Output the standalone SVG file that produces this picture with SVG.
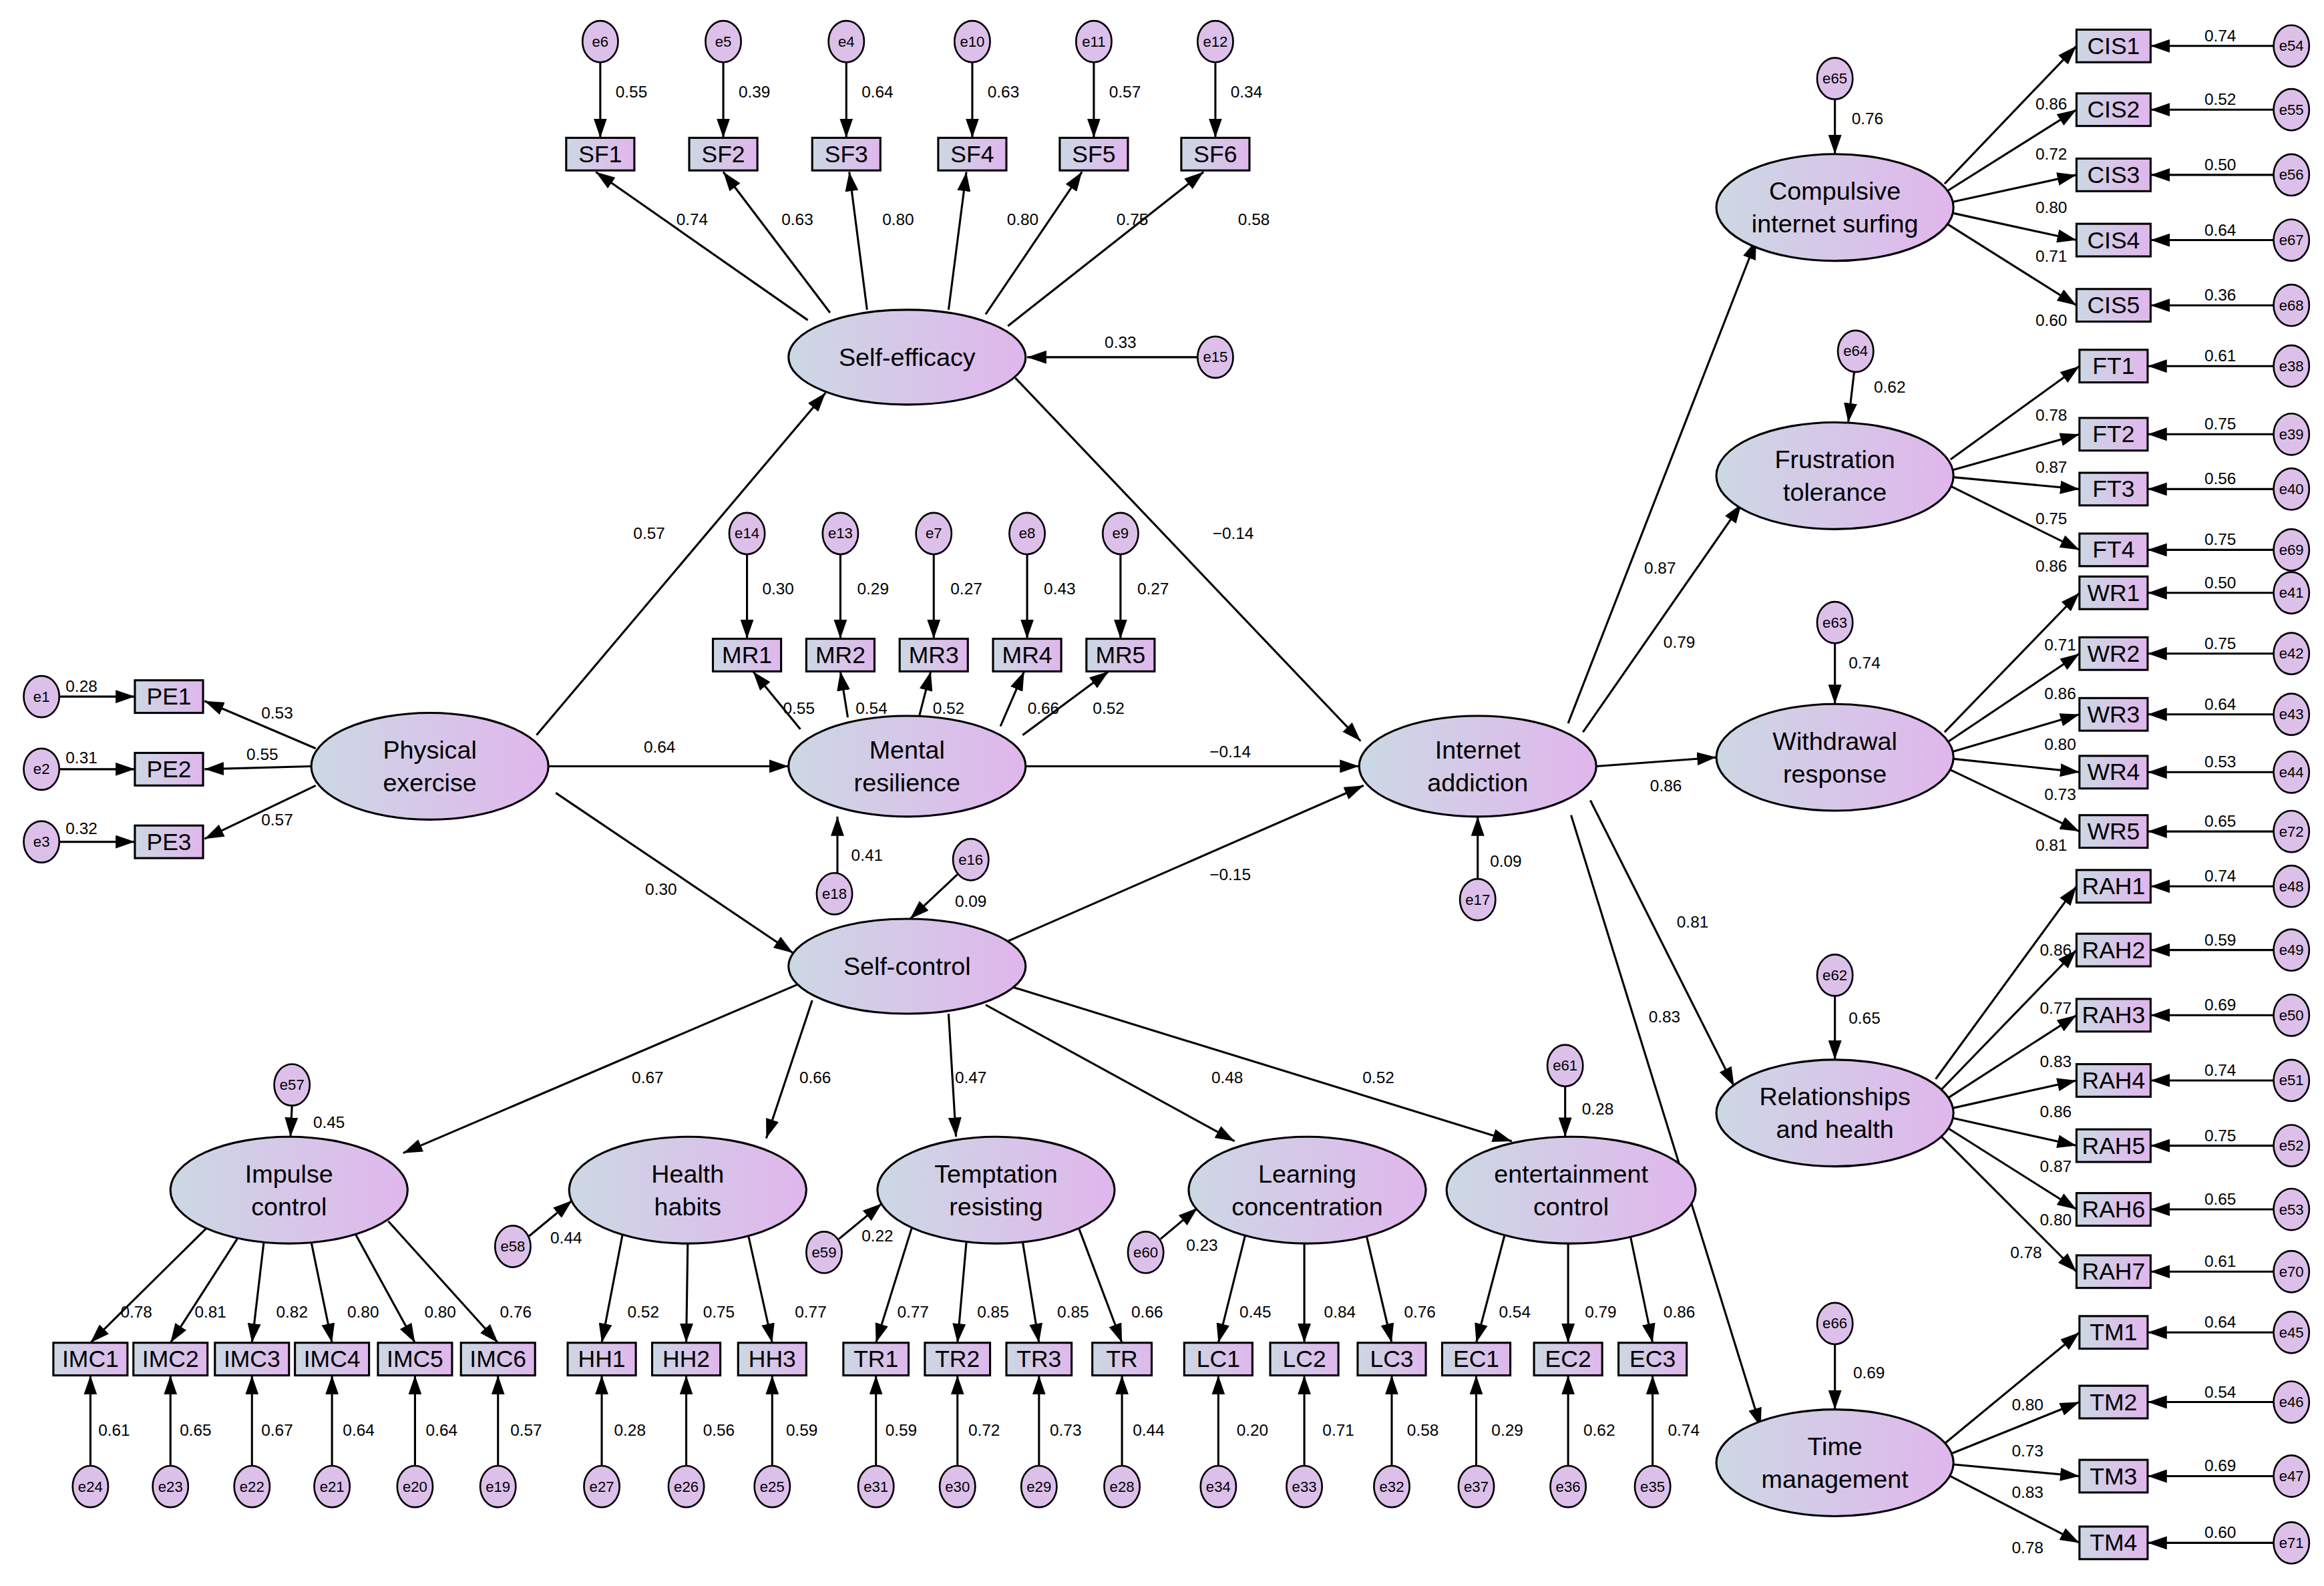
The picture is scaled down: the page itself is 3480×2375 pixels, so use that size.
<svg xmlns="http://www.w3.org/2000/svg" width="3480" height="2375" viewBox="0 0 3480 2375">
<defs>
<linearGradient id="g" x1="0" x2="1" y1="0" y2="0"><stop offset="0" stop-color="#ccd8e4"/><stop offset="1" stop-color="#e0b6ec"/></linearGradient>
<marker id="ar" markerUnits="userSpaceOnUse" markerWidth="13" markerHeight="9" refX="13" refY="4.5" orient="auto"><path d="M0,0 L13,4.5 L0,9 z" fill="#000"/></marker>
<style>
.l ellipse,.i rect{fill:url(#g);stroke:#000;stroke-width:1.4}
.e ellipse{fill:#dcc0ea;stroke:#000;stroke-width:1.2}
text{font-family:"Liberation Sans",Arial,sans-serif;text-anchor:middle;dominant-baseline:central;fill:#000}
.l text{font-size:17px}.i text{font-size:16px}.e text{font-size:10px}
.n text{font-size:11px}
#c line{stroke:#000;stroke-width:1.4;marker-end:url(#ar)}
</style>
</defs>
<rect width="3480" height="2375" fill="#fff"/>
<g transform="scale(2.2194)">
<g id="c">
<!-- SF -->
<line x1="405" y1="42" x2="405" y2="93"/><line x1="488" y1="42" x2="488" y2="93"/><line x1="571" y1="42" x2="571" y2="93"/><line x1="656" y1="42" x2="656" y2="93"/><line x1="738" y1="42" x2="738" y2="93"/><line x1="820" y1="42" x2="820" y2="93"/>
<line x1="545" y1="216" x2="402" y2="116"/><line x1="560" y1="211" x2="488" y2="116"/><line x1="585" y1="209" x2="573" y2="116"/><line x1="640" y1="209" x2="652" y2="116"/><line x1="665" y1="212" x2="730" y2="116"/><line x1="680" y1="220" x2="812" y2="116"/>
<line x1="808" y1="241" x2="693" y2="241"/>
<!-- MR -->
<line x1="504" y1="374" x2="504" y2="431"/><line x1="567" y1="374" x2="567" y2="431"/><line x1="630" y1="374" x2="630" y2="431"/><line x1="693" y1="374" x2="693" y2="431"/><line x1="756" y1="374" x2="756" y2="431"/>
<line x1="540" y1="492" x2="508" y2="453"/><line x1="572" y1="484" x2="567" y2="453"/><line x1="620" y1="484" x2="628" y2="453"/><line x1="675" y1="490" x2="691" y2="453"/><line x1="690" y1="496" x2="748" y2="453"/>
<line x1="565" y1="589" x2="565" y2="551"/>
<!-- PE -->
<line x1="40" y1="470" x2="91" y2="470"/><line x1="40" y1="519" x2="91" y2="519"/><line x1="40" y1="568" x2="91" y2="568"/>
<line x1="213" y1="505" x2="138" y2="473"/><line x1="210" y1="517" x2="138" y2="519"/><line x1="213" y1="530" x2="138" y2="566"/>
<!-- structural -->
<line x1="362" y1="496" x2="557" y2="265"/><line x1="370" y1="517" x2="532" y2="517"/><line x1="375" y1="535" x2="535" y2="643"/>
<line x1="685" y1="255" x2="918" y2="500"/><line x1="692" y1="517" x2="917" y2="517"/><line x1="680" y1="635" x2="920" y2="530"/>
<line x1="646" y1="590" x2="614" y2="620"/><line x1="997" y1="593" x2="997" y2="551"/>
<line x1="548" y1="660" x2="272" y2="778"/><line x1="548" y1="675" x2="517" y2="768"/><line x1="640" y1="684" x2="645" y2="767"/><line x1="665" y1="678" x2="833" y2="770"/><line x1="680" y1="665" x2="1020" y2="770"/>
<line x1="197" y1="746" x2="196" y2="767"/><line x1="357" y1="834" x2="386" y2="810"/><line x1="566" y1="836" x2="595" y2="812"/><line x1="783" y1="836" x2="808" y2="815"/><line x1="1056" y1="733" x2="1056" y2="767"/>
<!-- bottom loadings -->
<line x1="140" y1="828" x2="61" y2="906"/><line x1="160" y1="836" x2="115" y2="906"/><line x1="178" y1="838" x2="170" y2="906"/><line x1="210" y1="838" x2="224" y2="906"/><line x1="240" y1="833" x2="280" y2="906"/><line x1="262" y1="824" x2="336" y2="906"/>
<line x1="420" y1="833" x2="406" y2="906"/><line x1="464" y1="839" x2="463" y2="906"/><line x1="505" y1="834" x2="521" y2="906"/>
<line x1="615" y1="829" x2="591" y2="906"/><line x1="652" y1="838" x2="646" y2="906"/><line x1="690" y1="838" x2="701" y2="906"/><line x1="728" y1="829" x2="757" y2="906"/>
<line x1="840" y1="834" x2="822" y2="906"/><line x1="880" y1="839" x2="880" y2="906"/><line x1="922" y1="834" x2="939" y2="906"/>
<line x1="1015" y1="834" x2="996" y2="906"/><line x1="1058" y1="839" x2="1058" y2="906"/><line x1="1100" y1="834" x2="1115" y2="906"/>
<line x1="61" y1="989" x2="61" y2="928"/><line x1="115" y1="989" x2="115" y2="928"/><line x1="170" y1="989" x2="170" y2="928"/><line x1="224" y1="989" x2="224" y2="928"/><line x1="280" y1="989" x2="280" y2="928"/><line x1="336" y1="989" x2="336" y2="928"/>
<line x1="406" y1="989" x2="406" y2="928"/><line x1="463" y1="989" x2="463" y2="928"/><line x1="521" y1="989" x2="521" y2="928"/>
<line x1="591" y1="989" x2="591" y2="928"/><line x1="646" y1="989" x2="646" y2="928"/><line x1="701" y1="989" x2="701" y2="928"/><line x1="757" y1="989" x2="757" y2="928"/>
<line x1="822" y1="989" x2="822" y2="928"/><line x1="880" y1="989" x2="880" y2="928"/><line x1="939" y1="989" x2="939" y2="928"/>
<line x1="996" y1="989" x2="996" y2="928"/><line x1="1058" y1="989" x2="1058" y2="928"/><line x1="1115" y1="989" x2="1115" y2="928"/>
<!-- right structural -->
<line x1="1058" y1="488" x2="1185" y2="162"/><line x1="1068" y1="494" x2="1175" y2="340"/><line x1="1077" y1="517" x2="1158" y2="511"/><line x1="1073" y1="540" x2="1170" y2="733"/><line x1="1060" y1="550" x2="1188" y2="963"/>
<line x1="1238" y1="67" x2="1238" y2="104"/><line x1="1251" y1="251" x2="1247" y2="285"/><line x1="1238" y1="434" x2="1238" y2="475"/><line x1="1238" y1="672" x2="1238" y2="715"/><line x1="1238" y1="907" x2="1238" y2="951"/>
<!-- right indicators -->
<line x1="1312" y1="124" x2="1401" y2="31"/><line x1="1312" y1="130" x2="1401" y2="74"/><line x1="1314" y1="137" x2="1401" y2="118"/><line x1="1314" y1="143" x2="1401" y2="162"/><line x1="1312" y1="150" x2="1401" y2="206"/>
<line x1="1316" y1="310" x2="1403" y2="247"/><line x1="1318" y1="317" x2="1403" y2="293"/><line x1="1318" y1="322" x2="1403" y2="330"/><line x1="1316" y1="328" x2="1403" y2="371"/>
<line x1="1312" y1="494" x2="1403" y2="400"/><line x1="1315" y1="500" x2="1403" y2="441"/><line x1="1318" y1="507" x2="1403" y2="482"/><line x1="1318" y1="512" x2="1403" y2="521"/><line x1="1315" y1="519" x2="1403" y2="561"/>
<line x1="1306" y1="728" x2="1401" y2="598"/><line x1="1310" y1="735" x2="1401" y2="641"/><line x1="1314" y1="741" x2="1401" y2="685"/><line x1="1316" y1="748" x2="1401" y2="729"/><line x1="1316" y1="754" x2="1401" y2="773"/><line x1="1314" y1="761" x2="1401" y2="816"/><line x1="1310" y1="767" x2="1401" y2="858"/>
<line x1="1312" y1="974" x2="1403" y2="899"/><line x1="1316" y1="981" x2="1403" y2="946"/><line x1="1317" y1="988" x2="1403" y2="996"/><line x1="1314" y1="995" x2="1403" y2="1041"/>
<line x1="1534" y1="31" x2="1451" y2="31"/><line x1="1534" y1="74" x2="1451" y2="74"/><line x1="1534" y1="118" x2="1451" y2="118"/><line x1="1534" y1="162" x2="1451" y2="162"/><line x1="1534" y1="206" x2="1451" y2="206"/>
<line x1="1534" y1="247" x2="1449" y2="247"/><line x1="1534" y1="293" x2="1449" y2="293"/><line x1="1534" y1="330" x2="1449" y2="330"/><line x1="1534" y1="371" x2="1449" y2="371"/>
<line x1="1534" y1="400" x2="1449" y2="400"/><line x1="1534" y1="441" x2="1449" y2="441"/><line x1="1534" y1="482" x2="1449" y2="482"/><line x1="1534" y1="521" x2="1449" y2="521"/><line x1="1534" y1="561" x2="1449" y2="561"/>
<line x1="1534" y1="598" x2="1451" y2="598"/><line x1="1534" y1="641" x2="1451" y2="641"/><line x1="1534" y1="685" x2="1451" y2="685"/><line x1="1534" y1="729" x2="1451" y2="729"/><line x1="1534" y1="773" x2="1451" y2="773"/><line x1="1534" y1="816" x2="1451" y2="816"/><line x1="1534" y1="858" x2="1451" y2="858"/>
<line x1="1534" y1="899" x2="1449" y2="899"/><line x1="1534" y1="946" x2="1449" y2="946"/><line x1="1534" y1="996" x2="1449" y2="996"/><line x1="1534" y1="1041" x2="1449" y2="1041"/>
</g>
<!-- latent nodes -->
<g id="PE" class="l"><ellipse cx="290" cy="517" rx="80" ry="36"/><text x="290" y="506">Physical</text><text x="290" y="528">exercise</text></g>
<g id="SE" class="l"><ellipse cx="612" cy="241" rx="80" ry="32"/><text x="612" y="241">Self-efficacy</text></g>
<g id="MR" class="l"><ellipse cx="612" cy="517" rx="80" ry="34"/><text x="612" y="506">Mental</text><text x="612" y="528">resilience</text></g>
<g id="SC" class="l"><ellipse cx="612" cy="652" rx="80" ry="32"/><text x="612" y="652">Self-control</text></g>
<g id="IA" class="l"><ellipse cx="997" cy="517" rx="80" ry="34"/><text x="997" y="506">Internet</text><text x="997" y="528">addiction</text></g>
<g id="IC" class="l"><ellipse cx="195" cy="803" rx="80" ry="36"/><text x="195" y="792">Impulse</text><text x="195" y="814">control</text></g>
<g id="HHl" class="l"><ellipse cx="464" cy="803" rx="80" ry="36"/><text x="464" y="792">Health</text><text x="464" y="814">habits</text></g>
<g id="TRl" class="l"><ellipse cx="672" cy="803" rx="80" ry="36"/><text x="672" y="792">Temptation</text><text x="672" y="814">resisting</text></g>
<g id="LCl" class="l"><ellipse cx="882" cy="803" rx="80" ry="36"/><text x="882" y="792">Learning</text><text x="882" y="814">concentration</text></g>
<g id="ECl" class="l"><ellipse cx="1060" cy="803" rx="84" ry="36"/><text x="1060" y="792">entertainment</text><text x="1060" y="814">control</text></g>
<g id="CISl" class="l"><ellipse cx="1238" cy="140" rx="80" ry="36"/><text x="1238" y="129">Compulsive</text><text x="1238" y="151">internet surfing</text></g>
<g id="FTl" class="l"><ellipse cx="1238" cy="321" rx="80" ry="36"/><text x="1238" y="310">Frustration</text><text x="1238" y="332">tolerance</text></g>
<g id="WRl" class="l"><ellipse cx="1238" cy="511" rx="80" ry="36"/><text x="1238" y="500">Withdrawal</text><text x="1238" y="522">response</text></g>
<g id="RAHl" class="l"><ellipse cx="1238" cy="751" rx="80" ry="36"/><text x="1238" y="740">Relationships</text><text x="1238" y="762">and health</text></g>
<g id="TMl" class="l"><ellipse cx="1238" cy="987" rx="80" ry="36"/><text x="1238" y="976">Time</text><text x="1238" y="998">management</text></g>
<!-- indicators -->
<g class="i">
<g id="SF1"><rect x="382" y="93" width="46" height="22"/><text x="405" y="104">SF1</text></g>
<g id="SF2"><rect x="465" y="93" width="46" height="22"/><text x="488" y="104">SF2</text></g>
<g id="SF3"><rect x="548" y="93" width="46" height="22"/><text x="571" y="104">SF3</text></g>
<g id="SF4"><rect x="633" y="93" width="46" height="22"/><text x="656" y="104">SF4</text></g>
<g id="SF5"><rect x="715" y="93" width="46" height="22"/><text x="738" y="104">SF5</text></g>
<g id="SF6"><rect x="797" y="93" width="46" height="22"/><text x="820" y="104">SF6</text></g>
<g id="MR1"><rect x="481" y="431" width="46" height="22"/><text x="504" y="442">MR1</text></g>
<g id="MR2"><rect x="544" y="431" width="46" height="22"/><text x="567" y="442">MR2</text></g>
<g id="MR3"><rect x="607" y="431" width="46" height="22"/><text x="630" y="442">MR3</text></g>
<g id="MR4"><rect x="670" y="431" width="46" height="22"/><text x="693" y="442">MR4</text></g>
<g id="MR5"><rect x="733" y="431" width="46" height="22"/><text x="756" y="442">MR5</text></g>
<g id="PE1"><rect x="91" y="459" width="46" height="22"/><text x="114" y="470">PE1</text></g>
<g id="PE2"><rect x="91" y="508" width="46" height="22"/><text x="114" y="519">PE2</text></g>
<g id="PE3"><rect x="91" y="557" width="46" height="22"/><text x="114" y="568">PE3</text></g>
<g id="IMC1"><rect x="36" y="906" width="50" height="22"/><text x="61" y="917">IMC1</text></g>
<g id="IMC2"><rect x="90" y="906" width="50" height="22"/><text x="115" y="917">IMC2</text></g>
<g id="IMC3"><rect x="145" y="906" width="50" height="22"/><text x="170" y="917">IMC3</text></g>
<g id="IMC4"><rect x="199" y="906" width="50" height="22"/><text x="224" y="917">IMC4</text></g>
<g id="IMC5"><rect x="255" y="906" width="50" height="22"/><text x="280" y="917">IMC5</text></g>
<g id="IMC6"><rect x="311" y="906" width="50" height="22"/><text x="336" y="917">IMC6</text></g>
<g id="HH1"><rect x="383" y="906" width="46" height="22"/><text x="406" y="917">HH1</text></g>
<g id="HH2"><rect x="440" y="906" width="46" height="22"/><text x="463" y="917">HH2</text></g>
<g id="HH3"><rect x="498" y="906" width="46" height="22"/><text x="521" y="917">HH3</text></g>
<g id="TR1"><rect x="569" y="906" width="44" height="22"/><text x="591" y="917">TR1</text></g>
<g id="TR2"><rect x="624" y="906" width="44" height="22"/><text x="646" y="917">TR2</text></g>
<g id="TR3"><rect x="679" y="906" width="44" height="22"/><text x="701" y="917">TR3</text></g>
<g id="TR4"><rect x="737" y="906" width="40" height="22"/><text x="757" y="917">TR</text></g>
<g id="LC1"><rect x="799" y="906" width="46" height="22"/><text x="822" y="917">LC1</text></g>
<g id="LC2"><rect x="857" y="906" width="46" height="22"/><text x="880" y="917">LC2</text></g>
<g id="LC3"><rect x="916" y="906" width="46" height="22"/><text x="939" y="917">LC3</text></g>
<g id="EC1"><rect x="973" y="906" width="46" height="22"/><text x="996" y="917">EC1</text></g>
<g id="EC2"><rect x="1035" y="906" width="46" height="22"/><text x="1058" y="917">EC2</text></g>
<g id="EC3"><rect x="1092" y="906" width="46" height="22"/><text x="1115" y="917">EC3</text></g>
<g id="CIS1"><rect x="1401" y="20" width="50" height="22"/><text x="1426" y="31">CIS1</text></g>
<g id="CIS2"><rect x="1401" y="63" width="50" height="22"/><text x="1426" y="74">CIS2</text></g>
<g id="CIS3"><rect x="1401" y="107" width="50" height="22"/><text x="1426" y="118">CIS3</text></g>
<g id="CIS4"><rect x="1401" y="151" width="50" height="22"/><text x="1426" y="162">CIS4</text></g>
<g id="CIS5"><rect x="1401" y="195" width="50" height="22"/><text x="1426" y="206">CIS5</text></g>
<g id="FT1"><rect x="1403" y="236" width="46" height="22"/><text x="1426" y="247">FT1</text></g>
<g id="FT2"><rect x="1403" y="282" width="46" height="22"/><text x="1426" y="293">FT2</text></g>
<g id="FT3"><rect x="1403" y="319" width="46" height="22"/><text x="1426" y="330">FT3</text></g>
<g id="FT4"><rect x="1403" y="360" width="46" height="22"/><text x="1426" y="371">FT4</text></g>
<g id="WR1"><rect x="1403" y="389" width="46" height="22"/><text x="1426" y="400">WR1</text></g>
<g id="WR2"><rect x="1403" y="430" width="46" height="22"/><text x="1426" y="441">WR2</text></g>
<g id="WR3"><rect x="1403" y="471" width="46" height="22"/><text x="1426" y="482">WR3</text></g>
<g id="WR4"><rect x="1403" y="510" width="46" height="22"/><text x="1426" y="521">WR4</text></g>
<g id="WR5"><rect x="1403" y="550" width="46" height="22"/><text x="1426" y="561">WR5</text></g>
<g id="RAH1"><rect x="1401" y="587" width="50" height="22"/><text x="1426" y="598">RAH1</text></g>
<g id="RAH2"><rect x="1401" y="630" width="50" height="22"/><text x="1426" y="641">RAH2</text></g>
<g id="RAH3"><rect x="1401" y="674" width="50" height="22"/><text x="1426" y="685">RAH3</text></g>
<g id="RAH4"><rect x="1401" y="718" width="50" height="22"/><text x="1426" y="729">RAH4</text></g>
<g id="RAH5"><rect x="1401" y="762" width="50" height="22"/><text x="1426" y="773">RAH5</text></g>
<g id="RAH6"><rect x="1401" y="805" width="50" height="22"/><text x="1426" y="816">RAH6</text></g>
<g id="RAH7"><rect x="1401" y="847" width="50" height="22"/><text x="1426" y="858">RAH7</text></g>
<g id="TM1"><rect x="1403" y="888" width="46" height="22"/><text x="1426" y="899">TM1</text></g>
<g id="TM2"><rect x="1403" y="935" width="46" height="22"/><text x="1426" y="946">TM2</text></g>
<g id="TM3"><rect x="1403" y="985" width="46" height="22"/><text x="1426" y="996">TM3</text></g>
<g id="TM4"><rect x="1403" y="1030" width="46" height="22"/><text x="1426" y="1041">TM4</text></g>
</g>
<!-- error terms -->
<g class="e">
<g id="e6"><ellipse cx="405" cy="28" rx="12" ry="14"/><text x="405" y="28">e6</text></g>
<g id="e5"><ellipse cx="488" cy="28" rx="12" ry="14"/><text x="488" y="28">e5</text></g>
<g id="e4"><ellipse cx="571" cy="28" rx="12" ry="14"/><text x="571" y="28">e4</text></g>
<g id="e10"><ellipse cx="656" cy="28" rx="12" ry="14"/><text x="656" y="28">e10</text></g>
<g id="e11"><ellipse cx="738" cy="28" rx="12" ry="14"/><text x="738" y="28">e11</text></g>
<g id="e12"><ellipse cx="820" cy="28" rx="12" ry="14"/><text x="820" y="28">e12</text></g>
<g id="e15"><ellipse cx="820" cy="241" rx="12" ry="14"/><text x="820" y="241">e15</text></g>
<g id="e14"><ellipse cx="504" cy="360" rx="12" ry="14"/><text x="504" y="360">e14</text></g>
<g id="e13"><ellipse cx="567" cy="360" rx="12" ry="14"/><text x="567" y="360">e13</text></g>
<g id="e7"><ellipse cx="630" cy="360" rx="12" ry="14"/><text x="630" y="360">e7</text></g>
<g id="e8"><ellipse cx="693" cy="360" rx="12" ry="14"/><text x="693" y="360">e8</text></g>
<g id="e9"><ellipse cx="756" cy="360" rx="12" ry="14"/><text x="756" y="360">e9</text></g>
<g id="e18"><ellipse cx="563" cy="603" rx="12" ry="14"/><text x="563" y="603">e18</text></g>
<g id="e16"><ellipse cx="655" cy="580" rx="12" ry="14"/><text x="655" y="580">e16</text></g>
<g id="e17"><ellipse cx="997" cy="607" rx="12" ry="14"/><text x="997" y="607">e17</text></g>
<g id="e1"><ellipse cx="28" cy="470" rx="12" ry="14"/><text x="28" y="470">e1</text></g>
<g id="e2"><ellipse cx="28" cy="519" rx="12" ry="14"/><text x="28" y="519">e2</text></g>
<g id="e3"><ellipse cx="28" cy="568" rx="12" ry="14"/><text x="28" y="568">e3</text></g>
<g id="e57"><ellipse cx="197" cy="732" rx="12" ry="14"/><text x="197" y="732">e57</text></g>
<g id="e58"><ellipse cx="346" cy="841" rx="12" ry="14"/><text x="346" y="841">e58</text></g>
<g id="e59"><ellipse cx="556" cy="845" rx="12" ry="14"/><text x="556" y="845">e59</text></g>
<g id="e60"><ellipse cx="773" cy="845" rx="12" ry="14"/><text x="773" y="845">e60</text></g>
<g id="e61"><ellipse cx="1056" cy="719" rx="12" ry="14"/><text x="1056" y="719">e61</text></g>
<g id="e24"><ellipse cx="61" cy="1003" rx="12" ry="14"/><text x="61" y="1003">e24</text></g>
<g id="e23"><ellipse cx="115" cy="1003" rx="12" ry="14"/><text x="115" y="1003">e23</text></g>
<g id="e22"><ellipse cx="170" cy="1003" rx="12" ry="14"/><text x="170" y="1003">e22</text></g>
<g id="e21"><ellipse cx="224" cy="1003" rx="12" ry="14"/><text x="224" y="1003">e21</text></g>
<g id="e20"><ellipse cx="280" cy="1003" rx="12" ry="14"/><text x="280" y="1003">e20</text></g>
<g id="e19"><ellipse cx="336" cy="1003" rx="12" ry="14"/><text x="336" y="1003">e19</text></g>
<g id="e27"><ellipse cx="406" cy="1003" rx="12" ry="14"/><text x="406" y="1003">e27</text></g>
<g id="e26"><ellipse cx="463" cy="1003" rx="12" ry="14"/><text x="463" y="1003">e26</text></g>
<g id="e25"><ellipse cx="521" cy="1003" rx="12" ry="14"/><text x="521" y="1003">e25</text></g>
<g id="e31"><ellipse cx="591" cy="1003" rx="12" ry="14"/><text x="591" y="1003">e31</text></g>
<g id="e30"><ellipse cx="646" cy="1003" rx="12" ry="14"/><text x="646" y="1003">e30</text></g>
<g id="e29"><ellipse cx="701" cy="1003" rx="12" ry="14"/><text x="701" y="1003">e29</text></g>
<g id="e28"><ellipse cx="757" cy="1003" rx="12" ry="14"/><text x="757" y="1003">e28</text></g>
<g id="e34"><ellipse cx="822" cy="1003" rx="12" ry="14"/><text x="822" y="1003">e34</text></g>
<g id="e33"><ellipse cx="880" cy="1003" rx="12" ry="14"/><text x="880" y="1003">e33</text></g>
<g id="e32"><ellipse cx="939" cy="1003" rx="12" ry="14"/><text x="939" y="1003">e32</text></g>
<g id="e37"><ellipse cx="996" cy="1003" rx="12" ry="14"/><text x="996" y="1003">e37</text></g>
<g id="e36"><ellipse cx="1058" cy="1003" rx="12" ry="14"/><text x="1058" y="1003">e36</text></g>
<g id="e35"><ellipse cx="1115" cy="1003" rx="12" ry="14"/><text x="1115" y="1003">e35</text></g>
<g id="e65"><ellipse cx="1238" cy="53" rx="12" ry="14"/><text x="1238" y="53">e65</text></g>
<g id="e64"><ellipse cx="1252" cy="237" rx="12" ry="14"/><text x="1252" y="237">e64</text></g>
<g id="e63"><ellipse cx="1238" cy="420" rx="12" ry="14"/><text x="1238" y="420">e63</text></g>
<g id="e62"><ellipse cx="1238" cy="658" rx="12" ry="14"/><text x="1238" y="658">e62</text></g>
<g id="e66"><ellipse cx="1238" cy="893" rx="12" ry="14"/><text x="1238" y="893">e66</text></g>
<g id="e54"><ellipse cx="1546" cy="31" rx="12" ry="14"/><text x="1546" y="31">e54</text></g>
<g id="e55"><ellipse cx="1546" cy="74" rx="12" ry="14"/><text x="1546" y="74">e55</text></g>
<g id="e56"><ellipse cx="1546" cy="118" rx="12" ry="14"/><text x="1546" y="118">e56</text></g>
<g id="e67"><ellipse cx="1546" cy="162" rx="12" ry="14"/><text x="1546" y="162">e67</text></g>
<g id="e68"><ellipse cx="1546" cy="206" rx="12" ry="14"/><text x="1546" y="206">e68</text></g>
<g id="e38"><ellipse cx="1546" cy="247" rx="12" ry="14"/><text x="1546" y="247">e38</text></g>
<g id="e39"><ellipse cx="1546" cy="293" rx="12" ry="14"/><text x="1546" y="293">e39</text></g>
<g id="e40"><ellipse cx="1546" cy="330" rx="12" ry="14"/><text x="1546" y="330">e40</text></g>
<g id="e69"><ellipse cx="1546" cy="371" rx="12" ry="14"/><text x="1546" y="371">e69</text></g>
<g id="e41"><ellipse cx="1546" cy="400" rx="12" ry="14"/><text x="1546" y="400">e41</text></g>
<g id="e42"><ellipse cx="1546" cy="441" rx="12" ry="14"/><text x="1546" y="441">e42</text></g>
<g id="e43"><ellipse cx="1546" cy="482" rx="12" ry="14"/><text x="1546" y="482">e43</text></g>
<g id="e44"><ellipse cx="1546" cy="521" rx="12" ry="14"/><text x="1546" y="521">e44</text></g>
<g id="e72"><ellipse cx="1546" cy="561" rx="12" ry="14"/><text x="1546" y="561">e72</text></g>
<g id="e48"><ellipse cx="1546" cy="598" rx="12" ry="14"/><text x="1546" y="598">e48</text></g>
<g id="e49"><ellipse cx="1546" cy="641" rx="12" ry="14"/><text x="1546" y="641">e49</text></g>
<g id="e50"><ellipse cx="1546" cy="685" rx="12" ry="14"/><text x="1546" y="685">e50</text></g>
<g id="e51"><ellipse cx="1546" cy="729" rx="12" ry="14"/><text x="1546" y="729">e51</text></g>
<g id="e52"><ellipse cx="1546" cy="773" rx="12" ry="14"/><text x="1546" y="773">e52</text></g>
<g id="e53"><ellipse cx="1546" cy="816" rx="12" ry="14"/><text x="1546" y="816">e53</text></g>
<g id="e70"><ellipse cx="1546" cy="858" rx="12" ry="14"/><text x="1546" y="858">e70</text></g>
<g id="e45"><ellipse cx="1546" cy="899" rx="12" ry="14"/><text x="1546" y="899">e45</text></g>
<g id="e46"><ellipse cx="1546" cy="946" rx="12" ry="14"/><text x="1546" y="946">e46</text></g>
<g id="e47"><ellipse cx="1546" cy="996" rx="12" ry="14"/><text x="1546" y="996">e47</text></g>
<g id="e71"><ellipse cx="1546" cy="1041" rx="12" ry="14"/><text x="1546" y="1041">e71</text></g>
</g>
<!-- numbers -->
<g class="n">
<text x="426" y="62">0.55</text><text x="509" y="62">0.39</text><text x="592" y="62">0.64</text><text x="677" y="62">0.63</text><text x="759" y="62">0.57</text><text x="841" y="62">0.34</text>
<text x="467" y="148">0.74</text><text x="538" y="148">0.63</text><text x="606" y="148">0.80</text><text x="690" y="148">0.80</text><text x="764" y="148">0.75</text><text x="846" y="148">0.58</text>
<text x="756" y="231">0.33</text>
<text x="525" y="397">0.30</text><text x="589" y="397">0.29</text><text x="652" y="397">0.27</text><text x="715" y="397">0.43</text><text x="778" y="397">0.27</text>
<text x="539" y="478">0.55</text><text x="588" y="478">0.54</text><text x="640" y="478">0.52</text><text x="704" y="478">0.66</text><text x="748" y="478">0.52</text>
<text x="585" y="577">0.41</text>
<text x="55" y="463">0.28</text><text x="55" y="511">0.31</text><text x="55" y="559">0.32</text>
<text x="187" y="481">0.53</text><text x="177" y="509">0.55</text><text x="187" y="553">0.57</text>
<text x="438" y="360">0.57</text><text x="445" y="504">0.64</text><text x="446" y="600">0.30</text>
<text x="832" y="360">−0.14</text><text x="830" y="507">−0.14</text><text x="830" y="590">−0.15</text>
<text x="655" y="608">0.09</text><text x="1016" y="581">0.09</text>
<text x="437" y="727">0.67</text><text x="550" y="727">0.66</text><text x="655" y="727">0.47</text><text x="828" y="727">0.48</text><text x="930" y="727">0.52</text>
<text x="222" y="757">0.45</text><text x="382" y="835">0.44</text><text x="592" y="834">0.22</text><text x="811" y="840">0.23</text><text x="1078" y="748">0.28</text>
<text x="92" y="885">0.78</text><text x="142" y="885">0.81</text><text x="197" y="885">0.82</text><text x="245" y="885">0.80</text><text x="297" y="885">0.80</text><text x="348" y="885">0.76</text>
<text x="434" y="885">0.52</text><text x="485" y="885">0.75</text><text x="547" y="885">0.77</text>
<text x="616" y="885">0.77</text><text x="670" y="885">0.85</text><text x="724" y="885">0.85</text><text x="774" y="885">0.66</text>
<text x="847" y="885">0.45</text><text x="904" y="885">0.84</text><text x="958" y="885">0.76</text>
<text x="1022" y="885">0.54</text><text x="1080" y="885">0.79</text><text x="1133" y="885">0.86</text>
<text x="77" y="965">0.61</text><text x="132" y="965">0.65</text><text x="187" y="965">0.67</text><text x="242" y="965">0.64</text><text x="298" y="965">0.64</text><text x="355" y="965">0.57</text>
<text x="425" y="965">0.28</text><text x="485" y="965">0.56</text><text x="541" y="965">0.59</text>
<text x="608" y="965">0.59</text><text x="664" y="965">0.72</text><text x="719" y="965">0.73</text><text x="775" y="965">0.44</text>
<text x="845" y="965">0.20</text><text x="903" y="965">0.71</text><text x="960" y="965">0.58</text>
<text x="1017" y="965">0.29</text><text x="1079" y="965">0.62</text><text x="1136" y="965">0.74</text>
<text x="1120" y="383">0.87</text><text x="1133" y="433">0.79</text><text x="1124" y="530">0.86</text><text x="1142" y="622">0.81</text><text x="1123" y="686">0.83</text>
<text x="1260" y="80">0.76</text><text x="1275" y="261">0.62</text><text x="1258" y="447">0.74</text><text x="1258" y="687">0.65</text><text x="1261" y="926">0.69</text>
<text x="1498" y="24">0.74</text><text x="1498" y="67">0.52</text><text x="1498" y="111">0.50</text><text x="1498" y="155">0.64</text><text x="1498" y="199">0.36</text>
<text x="1384" y="70">0.86</text><text x="1384" y="104">0.72</text><text x="1384" y="140">0.80</text><text x="1384" y="173">0.71</text><text x="1384" y="216">0.60</text>
<text x="1498" y="240">0.61</text><text x="1498" y="286">0.75</text><text x="1498" y="323">0.56</text><text x="1498" y="364">0.75</text>
<text x="1384" y="280">0.78</text><text x="1384" y="315">0.87</text><text x="1384" y="350">0.75</text><text x="1384" y="382">0.86</text>
<text x="1498" y="393">0.50</text><text x="1498" y="434">0.75</text><text x="1498" y="475">0.64</text><text x="1498" y="514">0.53</text><text x="1498" y="554">0.65</text>
<text x="1390" y="435">0.71</text><text x="1390" y="468">0.86</text><text x="1390" y="502">0.80</text><text x="1390" y="536">0.73</text><text x="1384" y="570">0.81</text>
<text x="1498" y="591">0.74</text><text x="1498" y="634">0.59</text><text x="1498" y="678">0.69</text><text x="1498" y="722">0.74</text><text x="1498" y="766">0.75</text><text x="1498" y="809">0.65</text><text x="1498" y="851">0.61</text>
<text x="1387" y="641">0.86</text><text x="1387" y="680">0.77</text><text x="1387" y="716">0.83</text><text x="1387" y="750">0.86</text><text x="1387" y="787">0.87</text><text x="1387" y="823">0.80</text><text x="1367" y="845">0.78</text>
<text x="1498" y="892">0.64</text><text x="1498" y="939">0.54</text><text x="1498" y="989">0.69</text><text x="1498" y="1034">0.60</text>
<text x="1368" y="948">0.80</text><text x="1368" y="979">0.73</text><text x="1368" y="1007">0.83</text><text x="1368" y="1044">0.78</text>
</g>
</g>
</svg>
